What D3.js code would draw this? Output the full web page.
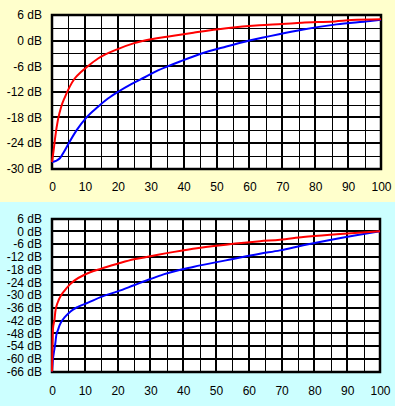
<!DOCTYPE html>
<html>
<head>
<meta charset="utf-8">
<script src="https://cdn.jsdelivr.net/npm/d3@7"></script>
<style>
  body { margin: 0; }
  svg { display: block; }
  text { font-family: "Liberation Sans", Arial, sans-serif; font-size: 12px; fill: #000; }
</style>
</head>
<body>
<div id="chart"></div>
<script>
// x axis (percent of travel)
const xTicks = [0, 10, 20, 30, 40, 50, 60, 70, 80, 90, 100];

// top panel
const topYTicks = [6, 0, -6, -12, -18, -24, -30];
const topRed = [
  [0, -28.5], [0.5, -25.7], [1, -22.5], [1.8, -18.6], [2.8, -15.5], [3.9, -13.3],
  [5.4, -10.8], [6.9, -8.9], [8.9, -7.3], [10.9, -6.0], [14, -4.2], [20, -2.0],
  [25, -0.6], [30, 0.3], [35, 0.9], [43, 1.85], [53, 2.9], [63, 3.6], [70, 3.9],
  [76, 4.2], [86, 4.5], [91, 4.8], [100, 5.0]
];
const topBlue = [
  [0, -28.5], [1.2, -28.2], [2.4, -27.6], [3.7, -26.0], [5, -24.2], [7.5, -21.0],
  [10.5, -18.0], [14, -15.5], [17, -13.6], [20.1, -12.0], [24.1, -10.2], [28.2, -8.6],
  [32.2, -7.0], [35.3, -6.0], [38.9, -4.9], [45, -3.15], [53, -1.4],
  [60, 0.0], [69, 1.5], [76.4, 2.6], [86.5, 3.8], [96.7, 4.6], [100, 4.9]
];

// bottom panel
const botYTicks = [6, 0, -6, -12, -18, -24, -30, -36, -42, -48, -54, -60, -66];
const botRed = [
  [0, -66], [0.3, -46], [0.8, -41.2], [1, -38], [1.8, -33.3], [2.8, -30.1],
  [3.9, -27.8], [5.4, -25.1], [6.9, -23.1], [10, -20.4], [15, -17.6], [20, -15.3],
  [25, -13.2], [30, -11.8], [35, -10.3], [43, -8.2], [53, -6.3], [63.4, -4.7],
  [69.5, -4.0], [76.6, -2.7], [86.8, -1.4], [100, 0]
];
const botBlue = [
  [0, -66], [0.3, -60], [0.6, -56.8], [1.0, -52.9], [1.3, -49], [1.8, -46.6],
  [2.3, -44.3], [2.8, -42.7], [3.9, -40.4], [4.9, -38.8], [6.4, -36.9], [7.9, -35.6],
  [11, -33.6], [15, -30.9], [20, -28.3], [25, -25.4], [30, -22.5], [34, -20.3],
  [43, -16.8], [53, -13.7], [63.4, -10.6], [69.5, -9.0], [76.6, -6.6], [86.8, -3.5], [100, 0]
];

const W = 395, H = 406;

const svg = d3.select("#chart").append("svg")
  .attr("width", W)
  .attr("height", H);

function drawPanel(cfg) {
  const g = svg.append("g");

  g.append("rect")
    .attr("x", 0).attr("y", cfg.bgTop)
    .attr("width", W).attr("height", cfg.bgHeight)
    .attr("fill", cfg.bg);

  const x = d3.scaleLinear().domain([0, 100]).range([cfg.left, cfg.right]);
  const y = d3.scaleLinear().domain(cfg.yDomain).range([cfg.bottom, cfg.top]);

  g.append("rect")
    .attr("x", cfg.left).attr("y", cfg.top)
    .attr("width", cfg.right - cfg.left).attr("height", cfg.bottom - cfg.top)
    .attr("fill", "#fff");

  // grid
  const xs = d3.range(0, 101, 5);
  g.selectAll(".vgrid").data(xs).join("line")
    .attr("class", "vgrid")
    .attr("x1", d => d % 10 === 0 ? Math.round(x(d)) : Math.round(x(d)) + 0.5)
    .attr("x2", d => d % 10 === 0 ? Math.round(x(d)) : Math.round(x(d)) + 0.5)
    .attr("y1", cfg.top).attr("y2", cfg.bottom)
    .attr("stroke", "#000")
    .attr("stroke-width", d => d % 10 === 0 ? 2 : 1);

  const ys = d3.range(cfg.yDomain[0], cfg.yDomain[1] + 0.1, cfg.gridStep);
  g.selectAll(".hgrid").data(ys).join("line")
    .attr("class", "hgrid")
    .attr("x1", cfg.left).attr("x2", cfg.right)
    .attr("y1", d => cfg.thick(d) ? Math.round(y(d)) : Math.round(y(d)) + 0.5)
    .attr("y2", d => cfg.thick(d) ? Math.round(y(d)) : Math.round(y(d)) + 0.5)
    .attr("stroke", "#000")
    .attr("stroke-width", d => cfg.thick(d) ? 2 : 1);

  g.append("rect")
    .attr("x", Math.round(cfg.left)).attr("y", Math.round(cfg.top))
    .attr("width", Math.round(cfg.right) - Math.round(cfg.left))
    .attr("height", Math.round(cfg.bottom) - Math.round(cfg.top))
    .attr("fill", "none")
    .attr("stroke", "#000")
    .attr("stroke-width", 2.5);

  // curves
  const line = d3.line()
    .x(d => x(d[0]))
    .y(d => y(d[1]))
    .curve(d3.curveMonotoneX);

  cfg.series.forEach(s => {
    g.append("path")
      .datum(s.data)
      .attr("d", line)
      .attr("fill", "none")
      .attr("stroke", s.color)
      .attr("stroke-width", 2);
  });

  // axes
  const yAxis = d3.axisLeft(y)
    .tickValues(cfg.yTicks)
    .tickSize(0)
    .tickPadding(10)
    .tickFormat(d => `${d} dB`);
  g.append("g")
    .attr("transform", `translate(${cfg.left},0)`)
    .call(yAxis)
    .call(a => a.select(".domain").remove())
    .selectAll("text")
    .attr("font-family", null)
    .attr("font-size", null);

  const xAxis = d3.axisBottom(x)
    .tickValues(xTicks)
    .tickSize(0)
    .tickPadding(cfg.xPad);
  g.append("g")
    .attr("transform", `translate(0,${cfg.bottom})`)
    .call(xAxis)
    .call(a => a.select(".domain").remove())
    .selectAll("text")
    .attr("font-family", null)
    .attr("font-size", null);
}

drawPanel({
  bg: "#ffffcc", bgTop: 0, bgHeight: 202,
  left: 52, right: 381, top: 15, bottom: 168.5,
  yDomain: [-30, 6], yTicks: topYTicks,
  gridStep: 3, thick: d => d % 6 === 0,
  xPad: 14,
  series: [
    { data: topBlue, color: "#0000ff" },
    { data: topRed, color: "#ff0000" }
  ]
});

drawPanel({
  bg: "#ccffff", bgTop: 202, bgHeight: 204,
  left: 52, right: 380, top: 218.5, bottom: 371.5,
  yDomain: [-66, 6], yTicks: botYTicks,
  gridStep: 6, thick: d => true,
  xPad: 15,
  series: [
    { data: botBlue, color: "#0000ff" },
    { data: botRed, color: "#ff0000" }
  ]
});
</script>
</body>
</html>
